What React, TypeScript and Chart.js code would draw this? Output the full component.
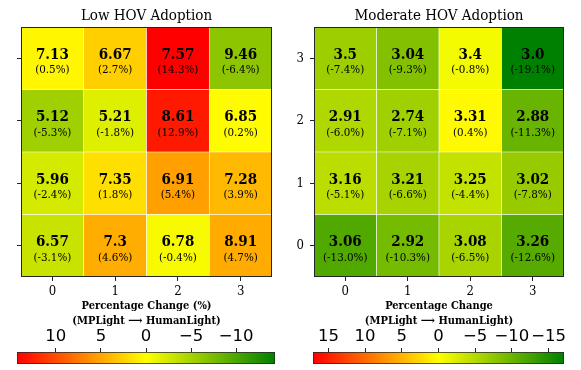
import React, { useEffect, useRef } from 'react';
import { Chart, registerables } from 'chart.js';

Chart.register(...registerables);

// ---------- data ----------
const X_LABELS = ['0', '1', '2', '3'];
const Y_TICKS = [0, 1, 2, 3];
const Y_TICK_LABELS = ['0', '1', '2', '3'];

const LOW_TITLE = 'Low HOV Adoption';
const MOD_TITLE = 'Moderate HOV Adoption';

// rows indexed by y (0 = bottom row, 3 = top row), columns by x
const LOW_VALUES = [
  [6.57, 7.3, 6.78, 8.91],
  [5.96, 7.35, 6.91, 7.28],
  [5.12, 5.21, 8.61, 6.85],
  [7.13, 6.67, 7.57, 9.46],
];
const LOW_CHANGE = [
  [-3.1, 4.6, -0.4, 4.7],
  [-2.4, 1.8, 5.4, 3.9],
  [-5.3, -1.8, 12.9, 0.2],
  [0.5, 2.7, 14.3, -6.4],
];
const MOD_VALUES = [
  [3.06, 2.92, 3.08, 3.26],
  [3.16, 3.21, 3.25, 3.02],
  [2.91, 2.74, 3.31, 2.88],
  [3.5, 3.04, 3.4, 3.0],
];
const MOD_CHANGE = [
  [-13.0, -10.3, -6.5, -12.6],
  [-5.1, -6.6, -4.4, -7.8],
  [-6.0, -7.1, 0.4, -11.3],
  [-7.4, -9.3, -0.8, -19.1],
];

const LOW_COLOR_LIMIT = 14.3;
const MOD_COLOR_LIMIT = 19.1;
const LOW_CB_LIMIT = 14.3;
const MOD_CB_LIMIT = 17.1;
const LOW_CB_TICKS = [10, 5, 0, -5, -10];
const MOD_CB_TICKS = [15, 10, 5, 0, -5, -10, -15];

const LOW_X_TITLE = ['Percentage Change (%)', '(MPLight \u27F6 HumanLight)'];
const MOD_X_TITLE = ['Percentage Change', '(MPLight \u27F6 HumanLight)'];

// ---------- styling ----------
const SERIF = '"DejaVu Serif Condensed", "DejaVu Serif", serif';
const SANS = '"DejaVu Sans", sans-serif';
const FRAME = '#262626';

function cellColor(pct: number, limit: number): string {
  const s = Math.max(-1, Math.min(1, pct / limit));
  let r: number;
  let g: number;
  if (s >= 0) {
    r = 255;
    g = 255 * (1 - s);
  } else {
    const u = -s;
    r = 255 * (1 - u);
    g = 255 - 127 * u;
  }
  return `rgb(${Math.round(r)},${Math.round(g)},0)`;
}

function fmtValue(v: number): string {
  return Number.isInteger(v) ? v.toFixed(1) : String(v);
}

function makeCellPlugin(values: number[][], changes: number[][]) {
  return {
    id: 'cellText',
    afterDatasetsDraw(chart: any) {
      const ctx = chart.ctx;
      const area = chart.chartArea;
      ctx.save();
      ctx.textAlign = 'center';
      ctx.textBaseline = 'middle';
      ctx.fillStyle = '#000';
      chart.data.datasets.forEach((_: any, di: number) => {
        const meta = chart.getDatasetMeta(di);
        meta.data.forEach((el: any, ci: number) => {
          const p = el.getProps(['x', 'y', 'base'], true);
          const cy = (p.y + p.base) / 2;
          ctx.font = `bold 15px ${SERIF}`;
          ctx.fillText(fmtValue(values[di][ci]), p.x, cy - 3.5);
          ctx.font = `11.5px ${SERIF}`;
          ctx.fillText(`(${changes[di][ci].toFixed(1)}%)`, p.x, cy + 12);
        });
      });
      // frame
      ctx.strokeStyle = FRAME;
      ctx.lineWidth = 1;
      ctx.strokeRect(
        Math.round(area.left) + 0.5,
        Math.round(area.top) + 0.5,
        Math.round(area.right) - Math.round(area.left) - 1,
        Math.round(area.bottom) - Math.round(area.top) - 1
      );
      ctx.restore();
    },
  };
}

type HeatProps = {
  left: number;
  width: number;
  yAxisWidth: number;
  padRight: number;
  title: string;
  values: number[][];
  changes: number[][];
  limit: number;
  showYLabels: boolean;
  xTitle: string[];
};

function Heatmap(props: HeatProps) {
  const ref = useRef<HTMLCanvasElement>(null);
  useEffect(() => {
    const { values, changes, limit } = props;
    const chart = new Chart(ref.current as HTMLCanvasElement, {
      type: 'bar',
      data: {
        labels: X_LABELS,
        datasets: Y_TICKS.map((r) => ({
          data: X_LABELS.map(() => [r - 0.5, r + 0.5]),
          backgroundColor: changes[r].map((v) => cellColor(v, limit)),
          borderColor: '#ffffff',
          borderWidth: 0.6,
          borderSkipped: false,
          grouped: false,
          barPercentage: 1,
          categoryPercentage: 1,
        })) as any,
      },
      options: {
        responsive: false,
        animation: false,
        devicePixelRatio: 1,
        events: [],
        layout: { padding: { left: 0, right: props.padRight, top: 0, bottom: 0 } },
        plugins: {
          legend: { display: false },
          tooltip: { enabled: false },
          title: {
            display: true,
            text: props.title,
            fullSize: false,
            color: '#000',
            font: { family: SERIF, size: 15, weight: 'normal', lineHeight: 1.2 },
            padding: { top: 7, bottom: 2 },
          },
        },
        scales: {
          x: {
            type: 'category',
            offset: true,
            grid: { offset: false, drawOnChartArea: false, drawTicks: true, tickLength: 4, color: FRAME },
            border: { display: false },
            ticks: { color: '#000', font: { family: SERIF, size: 13 }, padding: 3, maxRotation: 0 },
            title: {
              display: true,
              text: props.xTitle,
              color: '#000',
              font: { family: SERIF, size: 11, weight: 'bold', lineHeight: 1.32 },
              padding: { top: 0, bottom: 2 },
            },
            afterFit: (s: any) => {
              s.height = 53;
            },
          },
          y: {
            type: 'linear',
            min: -0.5,
            max: 3.5,
            afterBuildTicks: (s: any) => {
              s.ticks = Y_TICKS.map((v) => ({ value: v }));
            },
            grid: { drawOnChartArea: false, drawTicks: true, tickLength: 4, color: FRAME },
            border: { display: false },
            ticks: {
              color: '#000',
              font: { family: SERIF, size: 13 },
              padding: 6,
              callback: (_v: any, i: number) => (props.showYLabels ? Y_TICK_LABELS[i] : ''),
            },
            afterFit: (s: any) => {
              s.width = props.yAxisWidth;
            },
          },
        },
      } as any,
      plugins: [makeCellPlugin(values, changes)],
    });
    return () => chart.destroy();
  }, []);
  return (
    <canvas
      ref={ref}
      width={props.width}
      height={330}
      style={{ position: 'absolute', left: props.left, top: 0, width: props.width, height: 330 }}
    />
  );
}

type CbProps = {
  left: number;
  width: number;
  padLeft: number;
  padRight: number;
  limit: number;
  ticks: number[];
};

function Colorbar(props: CbProps) {
  const ref = useRef<HTMLCanvasElement>(null);
  useEffect(() => {
    const lim = props.limit;
    const chart = new Chart(ref.current as HTMLCanvasElement, {
      type: 'bar',
      data: {
        labels: ['cb'],
        datasets: [
          {
            data: [[-lim, lim]],
            backgroundColor: (c: any) => {
              const ch = c.chart;
              const xs = ch.scales.x;
              if (!ch.chartArea || !xs) return 'rgb(255,255,0)';
              const x0 = xs.getPixelForValue(lim);
              const x1 = xs.getPixelForValue(-lim);
              const g = ch.ctx.createLinearGradient(x0, 0, x1, 0);
              g.addColorStop(0, 'rgb(255,0,0)');
              g.addColorStop(0.5, 'rgb(255,255,0)');
              g.addColorStop(1, 'rgb(0,128,0)');
              return g;
            },
            borderColor: FRAME,
            borderWidth: 1,
            borderSkipped: false,
            barPercentage: 1,
            categoryPercentage: 1,
          },
        ] as any,
      },
      options: {
        indexAxis: 'y',
        responsive: false,
        animation: false,
        devicePixelRatio: 1,
        events: [],
        layout: { padding: { left: props.padLeft, right: props.padRight, top: 0, bottom: 6 } },
        plugins: { legend: { display: false }, tooltip: { enabled: false } },
        scales: {
          x: {
            type: 'linear',
            position: 'top',
            reverse: true,
            min: -lim,
            max: lim,
            afterBuildTicks: (s: any) => {
              s.ticks = props.ticks.map((v) => ({ value: v }));
            },
            grid: { drawOnChartArea: false, drawTicks: true, tickLength: 4, color: FRAME },
            border: { display: false },
            ticks: {
              color: '#000',
              font: { family: SANS, size: 16.5 },
              padding: 1,
              maxRotation: 0,
              autoSkip: false,
              callback: (v: any) => (v < 0 ? '\u2212' + Math.abs(v) : String(v)),
            },
            afterFit: (s: any) => {
              s.height = 30;
            },
          },
          y: { type: 'category', display: false },
        },
      } as any,
    });
    return () => chart.destroy();
  }, []);
  return (
    <canvas
      ref={ref}
      width={props.width}
      height={48}
      style={{ position: 'absolute', left: props.left, top: 322, width: props.width, height: 48 }}
    />
  );
}

export default function App() {
  return (
    <div style={{ position: 'absolute', left: 0, top: 0, width: 581, height: 370, background: '#fff', overflow: 'hidden' }}>
      <Heatmap
        left={0}
        width={290}
        yAxisWidth={21}
        padRight={18}
        title={LOW_TITLE}
        values={LOW_VALUES}
        changes={LOW_CHANGE}
        limit={LOW_COLOR_LIMIT}
        showYLabels={false}
        xTitle={LOW_X_TITLE}
      />
      <Heatmap
        left={290}
        width={291}
        yAxisWidth={24}
        padRight={17}
        title={MOD_TITLE}
        values={MOD_VALUES}
        changes={MOD_CHANGE}
        limit={MOD_COLOR_LIMIT}
        showYLabels={true}
        xTitle={MOD_X_TITLE}
      />
      <Colorbar left={0} width={290} padLeft={17} padRight={15} limit={LOW_CB_LIMIT} ticks={LOW_CB_TICKS} />
      <Colorbar left={290} width={291} padLeft={23} padRight={17} limit={MOD_CB_LIMIT} ticks={MOD_CB_TICKS} />
    </div>
  );
}
